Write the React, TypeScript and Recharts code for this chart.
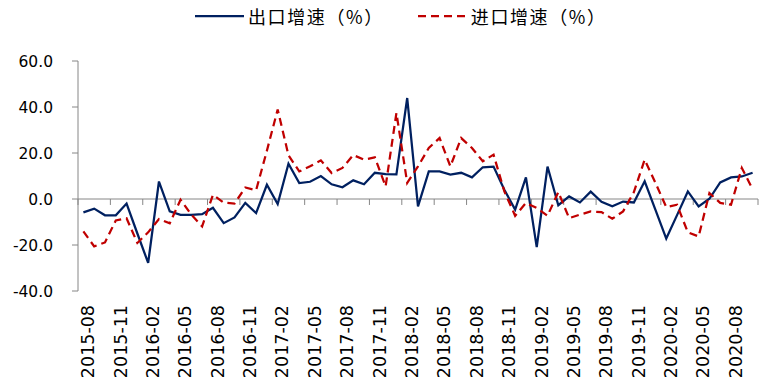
import React from "react";
import { LineChart, Line, XAxis, YAxis, ReferenceLine, Legend } from "recharts";

const months = [
  "2015-08", "2015-09", "2015-10", "2015-11", "2015-12",
  "2016-01", "2016-02", "2016-03", "2016-04", "2016-05", "2016-06",
  "2016-07", "2016-08", "2016-09", "2016-10", "2016-11", "2016-12",
  "2017-01", "2017-02", "2017-03", "2017-04", "2017-05", "2017-06",
  "2017-07", "2017-08", "2017-09", "2017-10", "2017-11", "2017-12",
  "2018-01", "2018-02", "2018-03", "2018-04", "2018-05", "2018-06",
  "2018-07", "2018-08", "2018-09", "2018-10", "2018-11", "2018-12",
  "2019-01", "2019-02", "2019-03", "2019-04", "2019-05", "2019-06",
  "2019-07", "2019-08", "2019-09", "2019-10", "2019-11", "2019-12",
  "2020-01", "2020-02", "2020-03", "2020-04", "2020-05", "2020-06",
  "2020-07", "2020-08", "2020-09", "2020-10",
];

const exportGrowth = [
  -5.8, -4.2, -7.1, -7.1, -2.0,
  -15.0, -27.8, 7.6, -5.4, -6.9, -6.9,
  -6.6, -3.8, -10.5, -8.0, -1.7, -6.1,
  6.2, -2.2, 15.3, 6.9, 7.5, 10.0,
  6.4, 5.1, 8.1, 6.4, 11.4, 10.8,
  10.7, 43.9, -3.2, 12.0, 12.0, 10.6,
  11.4, 9.4, 13.8, 14.1, 4.0, -4.6,
  9.4, -20.9, 14.1, -2.7, 1.1, -1.5,
  3.2, -1.2, -3.2, -1.1, -1.5, 7.7,
  -4.7, -17.2, -7.0, 3.3, -3.2, 0.1,
  7.2, 9.4, 9.8, 11.4,
];

const importGrowth = [
  -14.1, -20.6, -18.9, -9.3, -8.4,
  -19.1, -14.5, -8.7, -10.6, -0.3, -6.8,
  -11.9, 1.8, -1.6, -2.0, 5.0, 3.8,
  21.0, 38.9, 19.0, 12.0, 14.2, 16.8,
  11.3, 13.5, 19.1, 17.1, 18.1, 5.5,
  37.4, 7.0, 14.2, 22.2, 26.5, 14.2,
  26.5, 22.2, 16.4, 19.3, 3.3, -7.3,
  -1.7, -3.9, -7.3, 3.0, -8.3, -6.8,
  -5.4, -5.7, -8.6, -5.4, 3.0, 17.1,
  7.0, -3.5, -2.5, -14.5, -16.3, 2.6,
  -1.7, -2.5, 13.5, 4.3,
];

const tickLabels = [
  "2015-08", "2015-11", "2016-02", "2016-05", "2016-08", "2016-11",
  "2017-02", "2017-05", "2017-08", "2017-11", "2018-02", "2018-05",
  "2018-08", "2018-11", "2019-02", "2019-05", "2019-08", "2019-11",
  "2020-02", "2020-05", "2020-08",
];

const yTicks = [-40, -20, 0, 20, 40, 60];

const seriesNames = { export: "出口增速（%）", import: "进口增速（%）" };

const data = months.map((m, i) => ({
  x: i + 0.5,
  month: m,
  export: exportGrowth[i],
  import: importGrowth[i],
}));

const labelPositions = tickLabels.map((l) => months.indexOf(l) + 0.5);
const boundaryPositions = [...tickLabels.map((l) => months.indexOf(l)), months.length];

const AXIS = "#868686";
const BLUE = "#002060";
const RED = "#C00000";

const XTick = (props: any) => {
  const { x, y, payload } = props;
  const idx = Math.round(payload.value - 0.5);
  return (
    <text
      transform={`translate(${x},${y}) rotate(-90)`}
      x={0}
      y={0}
      dy={10.8}
      textAnchor="end"
      fontSize={17.5}
      fontFamily="DejaVu Sans"
      fill="#000"
    >
      {months[idx]}
    </text>
  );
};

const LegendContent = (props: any) => {
  const { payload } = props;
  return (
    <div style={{ display: "flex", alignItems: "center", height: 24 }}>
      {(payload || []).map((p: any, i: number) => (
        <div
          key={p.dataKey}
          style={{ display: "flex", alignItems: "center", marginLeft: i === 0 ? 0 : 34 }}
        >
          <svg width={49} height={6} style={{ display: "block" }}>
            <line
              x1={0}
              y1={3}
              x2={49}
              y2={3}
              stroke={p.color}
              strokeWidth={2.25}
              strokeDasharray={p.dataKey === "import" ? "8 5" : undefined}
            />
          </svg>
          <span
            style={{
              marginLeft: 4,
              fontSize: 18,
              fontFamily: "Noto Sans CJK SC",
              color: "#000",
              whiteSpace: "nowrap",
              lineHeight: "24px",
              letterSpacing: 1.6,
            }}
          >
            {seriesNames[p.dataKey as "export" | "import"]}
          </span>
        </div>
      ))}
    </div>
  );
};

export default function App() {
  return (
    <div style={{ position: "absolute", left: 0, top: 0, width: 765, height: 384, background: "#fff" }}>
      <LineChart
        width={765}
        height={384}
        data={data}
        margin={{ top: 61, right: 7, bottom: 13, left: 0 }}
      >
        <XAxis
          type="number"
          dataKey="x"
          domain={[0, months.length]}
          ticks={labelPositions}
          interval={0}
          axisLine={false}
          tickLine={false}
          tickSize={0}
          tickMargin={14}
          height={80}
          tick={<XTick />}
          allowDecimals
        />
        <YAxis
          type="number"
          domain={[-40, 60]}
          ticks={yTicks}
          interval={0}
          width={78}
          axisLine={{ stroke: AXIS, strokeWidth: 1 }}
          tickLine={{ stroke: AXIS, strokeWidth: 1 }}
          tickSize={6}
          tickMargin={19}
          tickFormatter={(v: number) => v.toFixed(1)}
          tick={{ fontSize: 15.5, fontFamily: "DejaVu Sans", fill: "#000" }}
        />
        <ReferenceLine y={0} stroke={AXIS} strokeWidth={1} />
        {boundaryPositions.map((b) => (
          <ReferenceLine
            key={b}
            segment={[
              { x: b, y: 0 },
              { x: b, y: -2.6 },
            ]}
            stroke={AXIS}
            strokeWidth={1}
          />
        ))}
        <Legend
          verticalAlign="middle"
          align="center"
          content={<LegendContent />}
          wrapperStyle={{ position: "absolute", top: 4, left: 195, width: "auto" }}
        />
        <Line
          type="linear"
          dataKey="export"
          name={seriesNames.export}
          stroke={BLUE}
          strokeWidth={2.25}
          dot={false}
          activeDot={false}
          isAnimationActive={false}
        />
        <Line
          type="linear"
          dataKey="import"
          name={seriesNames.import}
          stroke={RED}
          strokeWidth={2.25}
          strokeDasharray="8 5"
          dot={false}
          activeDot={false}
          isAnimationActive={false}
        />
      </LineChart>
    </div>
  );
}
